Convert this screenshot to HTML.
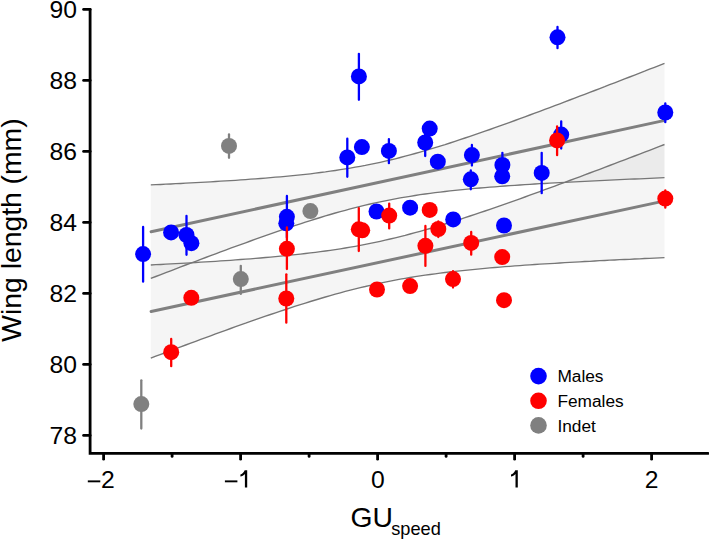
<!DOCTYPE html>
<html><head><meta charset="utf-8"><style>
html,body{margin:0;padding:0;background:#fff;}
svg{display:block;}
text{font-family:"Liberation Sans",sans-serif;fill:#000;}
.t{font-size:24.7px;}
.ti{font-size:28.3px;}
.lg{font-size:17.3px;}
</style></head><body>
<svg width="709" height="541" viewBox="0 0 709 541">
<rect width="709" height="541" fill="#fff"/>
<polygon points="150.8,184.9 155.8,184.7 160.8,184.5 165.8,184.2 170.7,184.0 175.7,183.7 180.7,183.5 185.7,183.2 190.7,182.9 195.7,182.7 200.7,182.4 205.7,182.1 210.6,181.8 215.6,181.5 220.6,181.2 225.6,180.9 230.6,180.6 235.6,180.3 240.6,179.9 245.6,179.6 250.5,179.2 255.5,178.9 260.5,178.5 265.5,178.1 270.5,177.7 275.5,177.2 280.5,176.8 285.5,176.4 290.4,175.9 295.4,175.4 300.4,174.9 305.4,174.3 310.4,173.8 315.4,173.2 320.4,172.5 325.4,171.9 330.3,171.2 335.3,170.5 340.3,169.7 345.3,168.9 350.3,168.1 355.3,167.2 360.3,166.3 365.3,165.4 370.2,164.4 375.2,163.4 380.2,162.3 385.2,161.2 390.2,160.0 395.2,158.8 400.2,157.5 405.2,156.2 410.1,154.9 415.1,153.5 420.1,152.1 425.1,150.7 430.1,149.2 435.1,147.7 440.1,146.1 445.1,144.6 450.0,143.0 455.0,141.3 460.0,139.7 465.0,138.0 470.0,136.4 475.0,134.7 480.0,132.9 485.0,131.2 489.9,129.5 494.9,127.7 499.9,125.9 504.9,124.1 509.9,122.3 514.9,120.5 519.9,118.7 524.9,116.8 529.8,115.0 534.8,113.2 539.8,111.3 544.8,109.4 549.8,107.6 554.8,105.7 559.8,103.8 564.8,101.9 569.7,100.0 574.7,98.1 579.7,96.2 584.7,94.3 589.7,92.4 594.7,90.5 599.7,88.6 604.7,86.7 609.6,84.7 614.6,82.8 619.6,80.9 624.6,78.9 629.6,77.0 634.6,75.1 639.6,73.1 644.6,71.2 649.5,69.2 654.5,67.3 659.5,65.3 664.5,63.4 664.5,177.7 659.5,177.9 654.5,178.2 649.5,178.4 644.6,178.6 639.6,178.8 634.6,179.0 629.6,179.2 624.6,179.4 619.6,179.7 614.6,179.9 609.6,180.1 604.7,180.3 599.7,180.6 594.7,180.8 589.7,181.1 584.7,181.3 579.7,181.6 574.7,181.8 569.7,182.1 564.8,182.3 559.8,182.6 554.8,182.9 549.8,183.2 544.8,183.5 539.8,183.7 534.8,184.0 529.8,184.4 524.9,184.7 519.9,185.0 514.9,185.3 509.9,185.7 504.9,186.0 499.9,186.4 494.9,186.8 489.9,187.2 485.0,187.6 480.0,188.0 475.0,188.4 470.0,188.9 465.0,189.4 460.0,189.9 455.0,190.4 450.0,190.9 445.1,191.5 440.1,192.1 435.1,192.7 430.1,193.3 425.1,194.0 420.1,194.7 415.1,195.5 410.1,196.3 405.2,197.1 400.2,197.9 395.2,198.9 390.2,199.8 385.2,200.8 380.2,201.8 375.2,202.9 370.2,204.0 365.3,205.2 360.3,206.4 355.3,207.6 350.3,208.9 345.3,210.3 340.3,211.6 335.3,213.0 330.3,214.5 325.4,215.9 320.4,217.5 315.4,219.0 310.4,220.6 305.4,222.1 300.4,223.8 295.4,225.4 290.4,227.1 285.5,228.7 280.5,230.4 275.5,232.2 270.5,233.9 265.5,235.6 260.5,237.4 255.5,239.2 250.5,241.0 245.6,242.8 240.6,244.6 235.6,246.4 230.6,248.2 225.6,250.1 220.6,251.9 215.6,253.8 210.6,255.6 205.7,257.5 200.7,259.4 195.7,261.3 190.7,263.2 185.7,265.0 180.7,266.9 175.7,268.8 170.7,270.8 165.8,272.7 160.8,274.6 155.8,276.5 150.8,278.4" fill="rgba(0,0,0,0.039)"/>
<polygon points="150.8,265.0 155.8,264.7 160.8,264.5 165.8,264.2 170.7,263.9 175.7,263.7 180.7,263.4 185.7,263.1 190.7,262.8 195.7,262.5 200.7,262.2 205.7,261.9 210.6,261.6 215.6,261.3 220.6,260.9 225.6,260.6 230.6,260.3 235.6,259.9 240.6,259.5 245.6,259.2 250.5,258.8 255.5,258.4 260.5,258.0 265.5,257.5 270.5,257.1 275.5,256.7 280.5,256.2 285.5,255.7 290.4,255.2 295.4,254.7 300.4,254.1 305.4,253.5 310.4,252.9 315.4,252.3 320.4,251.7 325.4,251.0 330.3,250.3 335.3,249.6 340.3,248.8 345.3,248.0 350.3,247.1 355.3,246.3 360.3,245.4 365.3,244.4 370.2,243.4 375.2,242.4 380.2,241.3 385.2,240.2 390.2,239.0 395.2,237.8 400.2,236.6 405.2,235.4 410.1,234.0 415.1,232.7 420.1,231.3 425.1,229.9 430.1,228.5 435.1,227.0 440.1,225.5 445.1,224.0 450.0,222.4 455.0,220.9 460.0,219.3 465.0,217.7 470.0,216.0 475.0,214.4 480.0,212.7 485.0,211.0 489.9,209.3 494.9,207.6 499.9,205.8 504.9,204.1 509.9,202.3 514.9,200.6 519.9,198.8 524.9,197.0 529.8,195.2 534.8,193.4 539.8,191.6 544.8,189.7 549.8,187.9 554.8,186.1 559.8,184.2 564.8,182.4 569.7,180.5 574.7,178.7 579.7,176.8 584.7,174.9 589.7,173.0 594.7,171.2 599.7,169.3 604.7,167.4 609.6,165.5 614.6,163.6 619.6,161.7 624.6,159.8 629.6,157.9 634.6,156.0 639.6,154.1 644.6,152.2 649.5,150.3 654.5,148.3 659.5,146.4 664.5,144.5 664.5,257.6 659.5,257.9 654.5,258.1 649.5,258.3 644.6,258.5 639.6,258.8 634.6,259.0 629.6,259.3 624.6,259.5 619.6,259.7 614.6,260.0 609.6,260.2 604.7,260.5 599.7,260.7 594.7,261.0 589.7,261.3 584.7,261.5 579.7,261.8 574.7,262.1 569.7,262.4 564.8,262.7 559.8,263.0 554.8,263.3 549.8,263.6 544.8,263.9 539.8,264.2 534.8,264.5 529.8,264.9 524.9,265.2 519.9,265.6 514.9,265.9 509.9,266.3 504.9,266.7 499.9,267.1 494.9,267.5 489.9,267.9 485.0,268.4 480.0,268.8 475.0,269.3 470.0,269.8 465.0,270.3 460.0,270.8 455.0,271.4 450.0,271.9 445.1,272.5 440.1,273.2 435.1,273.8 430.1,274.5 425.1,275.2 420.1,275.9 415.1,276.7 410.1,277.5 405.2,278.3 400.2,279.2 395.2,280.1 390.2,281.1 385.2,282.1 380.2,283.1 375.2,284.2 370.2,285.3 365.3,286.5 360.3,287.6 355.3,288.9 350.3,290.1 345.3,291.4 340.3,292.8 335.3,294.2 330.3,295.6 325.4,297.0 320.4,298.5 315.4,300.0 310.4,301.5 305.4,303.1 300.4,304.6 295.4,306.2 290.4,307.8 285.5,309.5 280.5,311.1 275.5,312.8 270.5,314.5 265.5,316.2 260.5,317.9 255.5,319.7 250.5,321.4 245.6,323.2 240.6,324.9 235.6,326.7 230.6,328.5 225.6,330.3 220.6,332.1 215.6,333.9 210.6,335.8 205.7,337.6 200.7,339.4 195.7,341.3 190.7,343.1 185.7,345.0 180.7,346.8 175.7,348.7 170.7,350.6 165.8,352.5 160.8,354.3 155.8,356.2 150.8,358.1" fill="rgba(0,0,0,0.039)"/>
<polyline points="150.8,184.9 155.8,184.7 160.8,184.5 165.8,184.2 170.7,184.0 175.7,183.7 180.7,183.5 185.7,183.2 190.7,182.9 195.7,182.7 200.7,182.4 205.7,182.1 210.6,181.8 215.6,181.5 220.6,181.2 225.6,180.9 230.6,180.6 235.6,180.3 240.6,179.9 245.6,179.6 250.5,179.2 255.5,178.9 260.5,178.5 265.5,178.1 270.5,177.7 275.5,177.2 280.5,176.8 285.5,176.4 290.4,175.9 295.4,175.4 300.4,174.9 305.4,174.3 310.4,173.8 315.4,173.2 320.4,172.5 325.4,171.9 330.3,171.2 335.3,170.5 340.3,169.7 345.3,168.9 350.3,168.1 355.3,167.2 360.3,166.3 365.3,165.4 370.2,164.4 375.2,163.4 380.2,162.3 385.2,161.2 390.2,160.0 395.2,158.8 400.2,157.5 405.2,156.2 410.1,154.9 415.1,153.5 420.1,152.1 425.1,150.7 430.1,149.2 435.1,147.7 440.1,146.1 445.1,144.6 450.0,143.0 455.0,141.3 460.0,139.7 465.0,138.0 470.0,136.4 475.0,134.7 480.0,132.9 485.0,131.2 489.9,129.5 494.9,127.7 499.9,125.9 504.9,124.1 509.9,122.3 514.9,120.5 519.9,118.7 524.9,116.8 529.8,115.0 534.8,113.2 539.8,111.3 544.8,109.4 549.8,107.6 554.8,105.7 559.8,103.8 564.8,101.9 569.7,100.0 574.7,98.1 579.7,96.2 584.7,94.3 589.7,92.4 594.7,90.5 599.7,88.6 604.7,86.7 609.6,84.7 614.6,82.8 619.6,80.9 624.6,78.9 629.6,77.0 634.6,75.1 639.6,73.1 644.6,71.2 649.5,69.2 654.5,67.3 659.5,65.3 664.5,63.4" fill="none" stroke="#767676" stroke-width="1.35"/>
<polyline points="150.8,278.4 155.8,276.5 160.8,274.6 165.8,272.7 170.7,270.8 175.7,268.8 180.7,266.9 185.7,265.0 190.7,263.2 195.7,261.3 200.7,259.4 205.7,257.5 210.6,255.6 215.6,253.8 220.6,251.9 225.6,250.1 230.6,248.2 235.6,246.4 240.6,244.6 245.6,242.8 250.5,241.0 255.5,239.2 260.5,237.4 265.5,235.6 270.5,233.9 275.5,232.2 280.5,230.4 285.5,228.7 290.4,227.1 295.4,225.4 300.4,223.8 305.4,222.1 310.4,220.6 315.4,219.0 320.4,217.5 325.4,215.9 330.3,214.5 335.3,213.0 340.3,211.6 345.3,210.3 350.3,208.9 355.3,207.6 360.3,206.4 365.3,205.2 370.2,204.0 375.2,202.9 380.2,201.8 385.2,200.8 390.2,199.8 395.2,198.9 400.2,197.9 405.2,197.1 410.1,196.3 415.1,195.5 420.1,194.7 425.1,194.0 430.1,193.3 435.1,192.7 440.1,192.1 445.1,191.5 450.0,190.9 455.0,190.4 460.0,189.9 465.0,189.4 470.0,188.9 475.0,188.4 480.0,188.0 485.0,187.6 489.9,187.2 494.9,186.8 499.9,186.4 504.9,186.0 509.9,185.7 514.9,185.3 519.9,185.0 524.9,184.7 529.8,184.4 534.8,184.0 539.8,183.7 544.8,183.5 549.8,183.2 554.8,182.9 559.8,182.6 564.8,182.3 569.7,182.1 574.7,181.8 579.7,181.6 584.7,181.3 589.7,181.1 594.7,180.8 599.7,180.6 604.7,180.3 609.6,180.1 614.6,179.9 619.6,179.7 624.6,179.4 629.6,179.2 634.6,179.0 639.6,178.8 644.6,178.6 649.5,178.4 654.5,178.2 659.5,177.9 664.5,177.7" fill="none" stroke="#767676" stroke-width="1.35"/>
<polyline points="150.8,265.0 155.8,264.7 160.8,264.5 165.8,264.2 170.7,263.9 175.7,263.7 180.7,263.4 185.7,263.1 190.7,262.8 195.7,262.5 200.7,262.2 205.7,261.9 210.6,261.6 215.6,261.3 220.6,260.9 225.6,260.6 230.6,260.3 235.6,259.9 240.6,259.5 245.6,259.2 250.5,258.8 255.5,258.4 260.5,258.0 265.5,257.5 270.5,257.1 275.5,256.7 280.5,256.2 285.5,255.7 290.4,255.2 295.4,254.7 300.4,254.1 305.4,253.5 310.4,252.9 315.4,252.3 320.4,251.7 325.4,251.0 330.3,250.3 335.3,249.6 340.3,248.8 345.3,248.0 350.3,247.1 355.3,246.3 360.3,245.4 365.3,244.4 370.2,243.4 375.2,242.4 380.2,241.3 385.2,240.2 390.2,239.0 395.2,237.8 400.2,236.6 405.2,235.4 410.1,234.0 415.1,232.7 420.1,231.3 425.1,229.9 430.1,228.5 435.1,227.0 440.1,225.5 445.1,224.0 450.0,222.4 455.0,220.9 460.0,219.3 465.0,217.7 470.0,216.0 475.0,214.4 480.0,212.7 485.0,211.0 489.9,209.3 494.9,207.6 499.9,205.8 504.9,204.1 509.9,202.3 514.9,200.6 519.9,198.8 524.9,197.0 529.8,195.2 534.8,193.4 539.8,191.6 544.8,189.7 549.8,187.9 554.8,186.1 559.8,184.2 564.8,182.4 569.7,180.5 574.7,178.7 579.7,176.8 584.7,174.9 589.7,173.0 594.7,171.2 599.7,169.3 604.7,167.4 609.6,165.5 614.6,163.6 619.6,161.7 624.6,159.8 629.6,157.9 634.6,156.0 639.6,154.1 644.6,152.2 649.5,150.3 654.5,148.3 659.5,146.4 664.5,144.5" fill="none" stroke="#767676" stroke-width="1.35"/>
<polyline points="150.8,358.1 155.8,356.2 160.8,354.3 165.8,352.5 170.7,350.6 175.7,348.7 180.7,346.8 185.7,345.0 190.7,343.1 195.7,341.3 200.7,339.4 205.7,337.6 210.6,335.8 215.6,333.9 220.6,332.1 225.6,330.3 230.6,328.5 235.6,326.7 240.6,324.9 245.6,323.2 250.5,321.4 255.5,319.7 260.5,317.9 265.5,316.2 270.5,314.5 275.5,312.8 280.5,311.1 285.5,309.5 290.4,307.8 295.4,306.2 300.4,304.6 305.4,303.1 310.4,301.5 315.4,300.0 320.4,298.5 325.4,297.0 330.3,295.6 335.3,294.2 340.3,292.8 345.3,291.4 350.3,290.1 355.3,288.9 360.3,287.6 365.3,286.5 370.2,285.3 375.2,284.2 380.2,283.1 385.2,282.1 390.2,281.1 395.2,280.1 400.2,279.2 405.2,278.3 410.1,277.5 415.1,276.7 420.1,275.9 425.1,275.2 430.1,274.5 435.1,273.8 440.1,273.2 445.1,272.5 450.0,271.9 455.0,271.4 460.0,270.8 465.0,270.3 470.0,269.8 475.0,269.3 480.0,268.8 485.0,268.4 489.9,267.9 494.9,267.5 499.9,267.1 504.9,266.7 509.9,266.3 514.9,265.9 519.9,265.6 524.9,265.2 529.8,264.9 534.8,264.5 539.8,264.2 544.8,263.9 549.8,263.6 554.8,263.3 559.8,263.0 564.8,262.7 569.7,262.4 574.7,262.1 579.7,261.8 584.7,261.5 589.7,261.3 594.7,261.0 599.7,260.7 604.7,260.5 609.6,260.2 614.6,260.0 619.6,259.7 624.6,259.5 629.6,259.3 634.6,259.0 639.6,258.8 644.6,258.5 649.5,258.3 654.5,258.1 659.5,257.9 664.5,257.6" fill="none" stroke="#767676" stroke-width="1.35"/>
<line x1="151.1" y1="231.7" x2="663.7" y2="120.6" stroke="#808080" stroke-width="3" stroke-linecap="round"/>
<line x1="151.1" y1="311.5" x2="663.7" y2="201.1" stroke="#808080" stroke-width="3" stroke-linecap="round"/>
<line x1="143.1" y1="227.0" x2="143.1" y2="281.7" stroke="#0000ff" stroke-width="2.3" stroke-linecap="round"/><circle cx="143.1" cy="254.1" r="8.0" fill="#0000ff"/><circle cx="171.1" cy="232.4" r="8.0" fill="#0000ff"/><line x1="186.5" y1="216.0" x2="186.5" y2="254.8" stroke="#0000ff" stroke-width="2.3" stroke-linecap="round"/><circle cx="186.5" cy="235.0" r="8.0" fill="#0000ff"/><circle cx="191.4" cy="243.2" r="8.0" fill="#0000ff"/><line x1="286.9" y1="196.0" x2="286.9" y2="237.6" stroke="#0000ff" stroke-width="2.3" stroke-linecap="round"/><circle cx="286.9" cy="216.8" r="8.0" fill="#0000ff"/><circle cx="286.3" cy="223.3" r="8.0" fill="#0000ff"/><line x1="347.3" y1="138.7" x2="347.3" y2="176.8" stroke="#0000ff" stroke-width="2.3" stroke-linecap="round"/><circle cx="347.3" cy="157.4" r="8.0" fill="#0000ff"/><line x1="358.9" y1="53.8" x2="358.9" y2="99.8" stroke="#0000ff" stroke-width="2.3" stroke-linecap="round"/><circle cx="358.9" cy="76.4" r="8.0" fill="#0000ff"/><circle cx="361.9" cy="147.1" r="8.0" fill="#0000ff"/><circle cx="376.5" cy="211.5" r="8.0" fill="#0000ff"/><line x1="388.9" y1="139.1" x2="388.9" y2="163.2" stroke="#0000ff" stroke-width="2.3" stroke-linecap="round"/><circle cx="388.9" cy="150.9" r="8.0" fill="#0000ff"/><circle cx="410.1" cy="207.7" r="8.0" fill="#0000ff"/><line x1="425.2" y1="128.9" x2="425.2" y2="156.1" stroke="#0000ff" stroke-width="2.3" stroke-linecap="round"/><circle cx="425.2" cy="142.5" r="8.0" fill="#0000ff"/><circle cx="429.7" cy="128.6" r="8.0" fill="#0000ff"/><circle cx="437.8" cy="161.7" r="8.0" fill="#0000ff"/><circle cx="453.2" cy="219.4" r="8.0" fill="#0000ff"/><line x1="471.9" y1="144.9" x2="471.9" y2="165.6" stroke="#0000ff" stroke-width="2.3" stroke-linecap="round"/><circle cx="471.9" cy="155.1" r="8.0" fill="#0000ff"/><line x1="470.8" y1="170.4" x2="470.8" y2="189.3" stroke="#0000ff" stroke-width="2.3" stroke-linecap="round"/><circle cx="470.8" cy="179.3" r="8.0" fill="#0000ff"/><line x1="502.4" y1="152.8" x2="502.4" y2="177.2" stroke="#0000ff" stroke-width="2.3" stroke-linecap="round"/><circle cx="502.4" cy="165.0" r="8.0" fill="#0000ff"/><circle cx="502.2" cy="176.3" r="8.0" fill="#0000ff"/><circle cx="504.0" cy="225.5" r="8.0" fill="#0000ff"/><line x1="541.7" y1="152.8" x2="541.7" y2="193.2" stroke="#0000ff" stroke-width="2.3" stroke-linecap="round"/><circle cx="541.7" cy="172.9" r="8.0" fill="#0000ff"/><line x1="557.5" y1="26.9" x2="557.5" y2="48.2" stroke="#0000ff" stroke-width="2.3" stroke-linecap="round"/><circle cx="557.5" cy="37.3" r="8.0" fill="#0000ff"/><line x1="561.2" y1="121.4" x2="561.2" y2="148.5" stroke="#0000ff" stroke-width="2.3" stroke-linecap="round"/><circle cx="561.2" cy="134.6" r="8.0" fill="#0000ff"/><line x1="665.3" y1="103.5" x2="665.3" y2="122.2" stroke="#0000ff" stroke-width="2.3" stroke-linecap="round"/><circle cx="665.3" cy="112.5" r="8.0" fill="#0000ff"/>

<line x1="171.2" y1="338.9" x2="171.2" y2="366.2" stroke="#ff0000" stroke-width="2.3" stroke-linecap="round"/><circle cx="171.2" cy="352.2" r="8.0" fill="#ff0000"/><circle cx="191.3" cy="297.8" r="8.0" fill="#ff0000"/><line x1="286.9" y1="227.4" x2="286.9" y2="269.0" stroke="#ff0000" stroke-width="2.3" stroke-linecap="round"/><circle cx="286.9" cy="248.8" r="8.0" fill="#ff0000"/><line x1="286.3" y1="274.3" x2="286.3" y2="322.7" stroke="#ff0000" stroke-width="2.3" stroke-linecap="round"/><circle cx="286.3" cy="298.5" r="8.0" fill="#ff0000"/><circle cx="362.2" cy="230.3" r="8.0" fill="#ff0000"/><line x1="358.8" y1="208.1" x2="358.8" y2="251.0" stroke="#ff0000" stroke-width="2.3" stroke-linecap="round"/><circle cx="358.8" cy="229.3" r="8.0" fill="#ff0000"/><circle cx="377.0" cy="289.5" r="8.0" fill="#ff0000"/><line x1="389.2" y1="203.6" x2="389.2" y2="228.4" stroke="#ff0000" stroke-width="2.3" stroke-linecap="round"/><circle cx="389.2" cy="215.6" r="8.0" fill="#ff0000"/><circle cx="410.1" cy="286.1" r="8.0" fill="#ff0000"/><line x1="425.4" y1="225.9" x2="425.4" y2="265.9" stroke="#ff0000" stroke-width="2.3" stroke-linecap="round"/><circle cx="425.4" cy="245.8" r="8.0" fill="#ff0000"/><circle cx="429.7" cy="209.9" r="8.0" fill="#ff0000"/><line x1="438.3" y1="221.4" x2="438.3" y2="237.1" stroke="#ff0000" stroke-width="2.3" stroke-linecap="round"/><circle cx="438.3" cy="229.0" r="8.0" fill="#ff0000"/><line x1="453.0" y1="271.2" x2="453.0" y2="287.6" stroke="#ff0000" stroke-width="2.3" stroke-linecap="round"/><circle cx="453.0" cy="279.1" r="8.0" fill="#ff0000"/><line x1="471.2" y1="232.0" x2="471.2" y2="254.7" stroke="#ff0000" stroke-width="2.3" stroke-linecap="round"/><circle cx="471.2" cy="242.9" r="8.0" fill="#ff0000"/><circle cx="502.2" cy="257.1" r="8.0" fill="#ff0000"/><circle cx="504.0" cy="300.2" r="8.0" fill="#ff0000"/><line x1="557.1" y1="126.4" x2="557.1" y2="155.2" stroke="#ff0000" stroke-width="2.3" stroke-linecap="round"/><circle cx="557.1" cy="140.4" r="8.0" fill="#ff0000"/><line x1="665.3" y1="190.4" x2="665.3" y2="207.7" stroke="#ff0000" stroke-width="2.3" stroke-linecap="round"/><circle cx="665.3" cy="198.6" r="8.0" fill="#ff0000"/>

<line x1="141.3" y1="380.3" x2="141.3" y2="428.6" stroke="#808080" stroke-width="2.3" stroke-linecap="round"/><circle cx="141.3" cy="404.1" r="8.0" fill="#808080"/><line x1="229.0" y1="134.5" x2="229.0" y2="157.8" stroke="#808080" stroke-width="2.3" stroke-linecap="round"/><circle cx="229.0" cy="145.9" r="8.0" fill="#808080"/><line x1="240.8" y1="265.8" x2="240.8" y2="293.9" stroke="#808080" stroke-width="2.3" stroke-linecap="round"/><circle cx="240.8" cy="279.1" r="8.0" fill="#808080"/><circle cx="310.4" cy="211.1" r="8.0" fill="#808080"/>

<path d="M90.1 9.4 L90.1 453.4 L708 453.4" fill="none" stroke="#000" stroke-width="2.8" stroke-linecap="round" stroke-linejoin="miter"/><line x1="83.6" y1="435.4" x2="90.1" y2="435.4" stroke="#000" stroke-width="2.8" stroke-linecap="round"/><text x="77" y="444.2" text-anchor="end" class="t">78</text><line x1="83.6" y1="364.4" x2="90.1" y2="364.4" stroke="#000" stroke-width="2.8" stroke-linecap="round"/><text x="77" y="373.2" text-anchor="end" class="t">80</text><line x1="83.6" y1="293.4" x2="90.1" y2="293.4" stroke="#000" stroke-width="2.8" stroke-linecap="round"/><text x="77" y="302.2" text-anchor="end" class="t">82</text><line x1="83.6" y1="222.4" x2="90.1" y2="222.4" stroke="#000" stroke-width="2.8" stroke-linecap="round"/><text x="77" y="231.2" text-anchor="end" class="t">84</text><line x1="83.6" y1="151.4" x2="90.1" y2="151.4" stroke="#000" stroke-width="2.8" stroke-linecap="round"/><text x="77" y="160.2" text-anchor="end" class="t">86</text><line x1="83.6" y1="80.4" x2="90.1" y2="80.4" stroke="#000" stroke-width="2.8" stroke-linecap="round"/><text x="77" y="89.2" text-anchor="end" class="t">88</text><line x1="83.6" y1="9.4" x2="90.1" y2="9.4" stroke="#000" stroke-width="2.8" stroke-linecap="round"/><text x="77" y="18.2" text-anchor="end" class="t">90</text><line x1="103.6" y1="453.4" x2="103.6" y2="459.2" stroke="#000" stroke-width="2.8" stroke-linecap="round"/><rect x="87.8" y="480.4" width="12.5" height="1.9" fill="#000"/><text x="101.0" y="487.6" class="t">2</text><line x1="172.1" y1="453.4" x2="172.1" y2="456.4" stroke="#000" stroke-width="2.8" stroke-linecap="round"/><line x1="240.6" y1="453.4" x2="240.6" y2="459.2" stroke="#000" stroke-width="2.8" stroke-linecap="round"/><rect x="224.9" y="480.4" width="12.5" height="1.9" fill="#000"/><path d="M244.70 470.2 L247.20 470.2 L247.20 487.6 L244.90 487.6 L244.90 474.0 C243.60 475.3 242.00 476.2 240.40 476.6 L240.40 474.6 C242.20 474.0 243.80 472.4 244.70 470.2 Z" fill="#000"/><line x1="309.1" y1="453.4" x2="309.1" y2="456.4" stroke="#000" stroke-width="2.8" stroke-linecap="round"/><line x1="377.6" y1="453.4" x2="377.6" y2="459.2" stroke="#000" stroke-width="2.8" stroke-linecap="round"/><text x="377.8" y="487.6" text-anchor="middle" class="t">0</text><line x1="446.1" y1="453.4" x2="446.1" y2="456.4" stroke="#000" stroke-width="2.8" stroke-linecap="round"/><line x1="514.6" y1="453.4" x2="514.6" y2="459.2" stroke="#000" stroke-width="2.8" stroke-linecap="round"/><path d="M515.30 470.2 L517.80 470.2 L517.80 487.6 L515.50 487.6 L515.50 474.0 C514.20 475.3 512.60 476.2 511.00 476.6 L511.00 474.6 C512.80 474.0 514.40 472.4 515.30 470.2 Z" fill="#000"/><line x1="583.1" y1="453.4" x2="583.1" y2="456.4" stroke="#000" stroke-width="2.8" stroke-linecap="round"/><line x1="651.6" y1="453.4" x2="651.6" y2="459.2" stroke="#000" stroke-width="2.8" stroke-linecap="round"/><text x="651.5" y="487.6" text-anchor="middle" class="t">2</text>
<text transform="translate(20.8,341.7) rotate(-90)" class="ti">Wing length (mm)</text>
<text x="350.6" y="526.6" class="ti">GU</text><text x="391.2" y="535.4" style="font-size:18.2px">speed</text>
<circle cx="538.5" cy="376.1" r="8.3" fill="#0000ff"/>
<text x="557.4" y="382.2" class="lg">Males</text>
<circle cx="538.5" cy="400.8" r="8.3" fill="#ff0000"/>
<text x="557.4" y="406.9" class="lg">Females</text>
<circle cx="538.5" cy="425.4" r="8.3" fill="#808080"/>
<text x="557.4" y="431.5" class="lg">Indet</text>
</svg>
</body></html>
